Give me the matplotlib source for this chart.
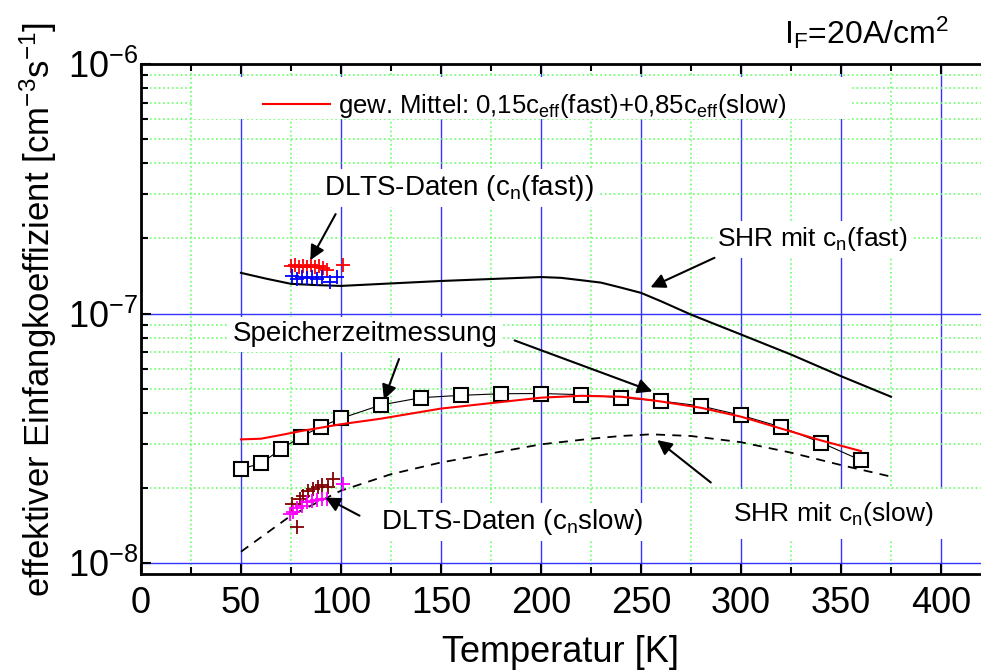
import matplotlib
matplotlib.use("Agg")
import matplotlib.pyplot as plt
from matplotlib.patches import Rectangle

plt.rcParams['font.family'] = ['Liberation Sans', 'DejaVu Sans']
plt.rcParams['mathtext.fontset'] = 'custom'
plt.rcParams['mathtext.rm'] = 'Liberation Sans'
plt.rcParams['mathtext.default'] = 'regular'
plt.rcParams['axes.unicode_minus'] = False

# Speicherzeitmessung (squares)
T_meas = [50, 60, 70, 80, 90, 100, 120, 140, 160, 180, 200, 220, 240, 260, 280, 300, 320, 340, 360]
c_meas = [2.38e-8, 2.51e-8, 2.86e-8, 3.21e-8, 3.52e-8, 3.80e-8, 4.30e-8, 4.60e-8, 4.70e-8, 4.77e-8,
          4.78e-8, 4.73e-8, 4.60e-8, 4.46e-8, 4.26e-8, 3.91e-8, 3.51e-8, 3.04e-8, 2.58e-8]

# weighted mean (red line)
T_mean = [50, 60, 70, 80, 100, 120, 150, 200, 220, 240, 250, 260, 280, 300, 320, 340, 360]
c_mean = [3.13e-8, 3.15e-8, 3.26e-8, 3.38e-8, 3.60e-8, 3.79e-8, 4.16e-8, 4.60e-8, 4.68e-8, 4.64e-8,
          4.55e-8, 4.44e-8, 4.19e-8, 3.86e-8, 3.46e-8, 3.10e-8, 2.81e-8]

# SHR mit c_n(fast) (solid black)
T_fast = [50, 62.5, 75, 87.5, 100, 125, 150, 180, 200, 210, 220, 230, 240, 250, 260, 275, 300, 325, 350, 375]
c_fast = [1.455e-7, 1.38e-7, 1.315e-7, 1.30e-7, 1.29e-7, 1.32e-7, 1.35e-7, 1.38e-7, 1.40e-7, 1.39e-7,
          1.36e-7, 1.33e-7, 1.27e-7, 1.21e-7, 1.12e-7, 9.9e-8, 8.24e-8, 6.85e-8, 5.61e-8, 4.64e-8]

# SHR mit c_n(slow) (dashed black)
T_slow = [50, 75, 100, 125, 150, 200, 225, 240, 255, 275, 300, 325, 350, 375]
c_slow = [1.11e-8, 1.55e-8, 1.95e-8, 2.27e-8, 2.53e-8, 2.99e-8, 3.15e-8, 3.23e-8, 3.28e-8, 3.23e-8,
          3.05e-8, 2.77e-8, 2.47e-8, 2.22e-8]

# DLTS data, fast level
T_dlts_fast_r = [75, 77, 79, 81, 83, 85, 87, 89, 91, 93, 101]
c_dlts_fast_r = [1.55e-7, 1.56e-7, 1.54e-7, 1.55e-7, 1.53e-7, 1.56e-7, 1.54e-7, 1.55e-7, 1.52e-7, 1.50e-7, 1.57e-7]
T_dlts_fast_b = [75.5, 78, 80.5, 83, 85.5, 88, 90.5, 94.5, 98]
c_dlts_fast_b = [1.41e-7, 1.38e-7, 1.40e-7, 1.39e-7, 1.40e-7, 1.38e-7, 1.40e-7, 1.34e-7, 1.40e-7]

# DLTS data, slow level
T_dlts_slow_d = [75.3, 77.8, 79.5, 81, 83.7, 86, 88.7, 90.3, 93.7, 96]
c_dlts_slow_d = [1.72e-8, 1.39e-8, 1.80e-8, 1.85e-8, 1.95e-8, 1.98e-8, 2.01e-8, 2.05e-8, 2.01e-8, 2.18e-8]
T_dlts_slow_m = [74.5, 76.2, 77.8, 80.3, 82.8, 85.3, 87.8, 90.3, 92.8, 101]
c_dlts_slow_m = [1.57e-8, 1.60e-8, 1.66e-8, 1.69e-8, 1.75e-8, 1.78e-8, 1.79e-8, 1.80e-8, 1.80e-8, 2.07e-8]

x_ticks = [0, 50, 100, 150, 200, 250, 300, 350, 400]
y_ticks = [1e-8, 1e-7, 1e-6]
y_tick_labels = ['10$^{-8}$', '10$^{-7}$', '10$^{-6}$']

fig = plt.figure(figsize=(9.81, 6.70), dpi=100)
ax = fig.add_axes([0.1437, 0.1433, 0.8563, 0.7612])
ax.set_yscale('log')
ax.set_xlim(0, 420)
ax.set_ylim(9.04e-9, 1e-6)

# grid
ax.set_xticks(x_ticks)
ax.set_xticks(range(25, 420, 50), minor=True)
ax.set_yticks(y_ticks)
ax.set_yticklabels(y_tick_labels)
ax.grid(True, which='major', color='#3333ff', linestyle='-', linewidth=1.0, zorder=0)
ax.grid(True, which='minor', color='#66ff66', linestyle=':', linewidth=1.2, zorder=0)
ax.set_axisbelow(True)

# white legend box
ax.add_patch(Rectangle((0.062, 0.893), 0.782, 0.082, transform=ax.transAxes,
                       facecolor='white', edgecolor='none', zorder=1))

ax.plot(T_fast, c_fast, color='black', linewidth=1.5, zorder=3)
ax.plot(T_slow, c_slow, color='black', linewidth=1.3, linestyle=(0, (5, 4)), zorder=3)
ax.plot(T_meas, c_meas, color='black', linewidth=0.8, marker='s', markersize=9.5,
        markerfacecolor='white', markeredgecolor='black', markeredgewidth=1.5, zorder=4)
red, = ax.plot(T_mean, c_mean, color='red', linewidth=1.5, zorder=5,
               label='gew. Mittel: 0,15c$_{eff}$(fast)+0,85c$_{eff}$(slow)')

ax.plot(T_dlts_fast_r, c_dlts_fast_r, linestyle='none', marker='+', markersize=10,
        markeredgewidth=1.3, color='red', zorder=6)
ax.plot(T_dlts_fast_b, c_dlts_fast_b, linestyle='none', marker='+', markersize=10,
        markeredgewidth=1.3, color='#0000ff', zorder=6)
ax.plot(T_dlts_slow_d, c_dlts_slow_d, linestyle='none', marker='+', markersize=10,
        markeredgewidth=1.3, color='#800000', zorder=6)
ax.plot(T_dlts_slow_m, c_dlts_slow_m, linestyle='none', marker='+', markersize=10,
        markeredgewidth=1.3, color='#ff00ff', zorder=6)

leg = ax.legend(handles=[red], loc='upper left', bbox_to_anchor=(0.118, 0.99), frameon=False,
                fontsize=18.5, handlelength=2.6, handletextpad=0.3)
leg.set_zorder(7)

# annotations
box = dict(facecolor='white', edgecolor='none', pad=3)
arrow = dict(arrowstyle='-|>', color='black', lw=1.5, mutation_scale=22)
tfs = 20

ax.text(159, 3.19e-7, 'DLTS-Daten (c$_n$(fast))', fontsize=tfs, ha='center', va='center', bbox=box, zorder=7)
ax.annotate('', xy=(84, 1.60e-7), xytext=(98, 2.56e-7), arrowprops=arrow, zorder=8)

ax.text(335.5, 1.98e-7, 'SHR mit c$_n$(fast)', fontsize=tfs - 1, ha='center', va='center', bbox=box, zorder=7)
ax.annotate('', xy=(253.5, 1.26e-7), xytext=(288, 1.69e-7), arrowprops=arrow, zorder=8)

ax.text(112, 8.24e-8, 'Speicherzeitmessung', fontsize=tfs, ha='center', va='center', bbox=box, zorder=7)
ax.annotate('', xy=(121, 4.41e-8), xytext=(129.5, 6.73e-8), arrowprops=arrow, zorder=8)
ax.annotate('', xy=(257, 4.83e-8), xytext=(185.5, 7.87e-8), arrowprops=arrow, zorder=8)

ax.text(346, 1.57e-8, 'SHR mit c$_n$(slow)', fontsize=tfs - 1, ha='center', va='center',
        bbox=dict(facecolor='white', edgecolor='none', pad=8), zorder=7)
ax.annotate('', xy=(257, 3.16e-8), xytext=(286, 2.07e-8), arrowprops=arrow, zorder=8)

ax.text(185.5, 1.46e-8, 'DLTS-Daten (c$_n$slow)', fontsize=tfs, ha='center', va='center', bbox=box, zorder=7)
ax.annotate('', xy=(91, 1.85e-8), xytext=(110.5, 1.53e-8), arrowprops=arrow, zorder=8)

# axes styling
for side in ['left', 'bottom', 'top']:
    ax.spines[side].set_linewidth(2.0)
ax.spines['right'].set_visible(False)
ax.tick_params(which='both', direction='in', top=True, right=False, width=1.5)
ax.tick_params(which='major', length=7, labelsize=26)
ax.tick_params(axis='x', which='major', pad=9)
ax.tick_params(axis='y', which='major', pad=2)
ax.tick_params(which='minor', length=5)

ax.set_xlabel('Temperatur [K]', fontsize=26)
ax.set_ylabel('effektiver Einfangkoeffizient [cm$^{-3}$s$^{-1}$]', fontsize=25)
ax.xaxis.label.set_va('center')
ax.yaxis.label.set_va('center')
ax.xaxis.set_label_coords(0.5, -0.153)
ax.yaxis.set_label_coords(-0.122, 0.518)

fig.text(866 / 981, 1 - 33 / 670, 'I$_F$=20A/cm$^2$', fontsize=23, ha='center', va='center')

fig.savefig('out.png', dpi=100)
